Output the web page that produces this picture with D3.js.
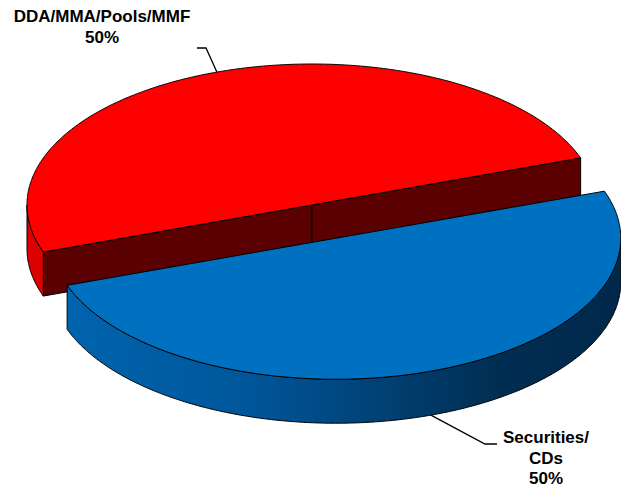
<!DOCTYPE html>
<html>
<head>
<meta charset="utf-8">
<script src="https://cdn.jsdelivr.net/npm/d3@7"></script>
<style>
  html, body { margin: 0; padding: 0; background: #fff; }
  svg { display: block; }
  text { font-family: "Liberation Sans", Arial, sans-serif; font-weight: bold; font-size: 17px; fill: #000; }
</style>
</head>
<body>
<svg id="chart" width="621" height="489"></svg>
<script>
// Allocation split
const categories = ["DDA/MMA/Pools/MMF", "Securities/CDs"];
const values = [50, 50];
const labelLines = [["DDA/MMA/Pools/MMF", "50%"], ["Securities/", "CDs", "50%"]];
const exploded = [0, 0.25];

const topColors = ["#FF0000", "#0070C0"];
const sideColors = ["#DC0000", "url(#blueSide)"];
const cutColors = ["#5A0000", "#002A4A"];

const width = 621, height = 489;
const cx = 312, cy = 205, rx = 285, ry = 141, depth = 44;

const svg = d3.select("#chart");

const defs = svg.append("defs");
const grad = defs.append("linearGradient")
  .attr("id", "blueSide").attr("gradientUnits", "userSpaceOnUse")
  .attr("x1", 67).attr("y1", 0).attr("x2", 622).attr("y2", 0);
[[0, "#0064AE"], [0.33, "#00569A"], [0.78, "#002E52"], [1, "#00284A"]]
  .forEach(([o, c]) => grad.append("stop").attr("offset", o).attr("stop-color", c));

const deg = Math.PI / 180;
const pie = d3.pie().sort(null).value(d => d)
  .startAngle(250.5 * deg).endAngle(250.5 * deg + 2 * Math.PI);
const arcs = pie(values);

// d3.pie angles run clockwise from 12 o'clock; screen angle runs from +x with y down
const screenAngle = a => a - Math.PI / 2;

function pt(theta, off, dz) {
  return [cx + off[0] + rx * Math.cos(theta), cy + off[1] + ry * Math.sin(theta) + dz];
}

function arcPoints(t0, t1, off, dz) {
  const n = Math.max(2, Math.ceil(Math.abs(t1 - t0) / (0.5 * deg)));
  return d3.range(n + 1).map(i => pt(t0 + (t1 - t0) * i / n, off, dz));
}

const line = d3.line();

const slices = arcs.map((a, i) => {
  const t0 = screenAngle(a.startAngle), t1 = screenAngle(a.endAngle);
  const mid = (t0 + t1) / 2;
  const e = exploded[i];
  const off = [e * rx * Math.cos(mid), e * ry * Math.sin(mid)];
  return { i, t0, t1, mid, off };
});

// Draw the back slice first, exploded front slice last
const order = slices.slice().sort((a, b) => Math.sin(a.mid) - Math.sin(b.mid));

const stroke = "#000", sw = 1;

order.forEach(s => {
  const g = svg.append("g");
  const c = [cx + s.off[0], cy + s.off[1]];

  // radial cut faces facing the viewer
  const faces = [];
  if (Math.sin(s.t0 - Math.PI / 2) > 0) faces.push(s.t0);
  if (Math.sin(s.t1 + Math.PI / 2) > 0) faces.push(s.t1);
  faces.forEach(t => {
    const p = pt(t, s.off, 0), q = pt(t, s.off, depth);
    g.append("path")
      .attr("d", line([c, p, q, [c[0], c[1] + depth]]) + "Z")
      .attr("fill", cutColors[s.i]).attr("stroke", stroke).attr("stroke-width", sw)
      .attr("stroke-linejoin", "round");
  });

  // outer rim: parts of the arc facing the viewer (sin > 0)
  for (let k = -1; k <= 2; k++) {
    const a0 = Math.max(s.t0, k * 2 * Math.PI), a1 = Math.min(s.t1, k * 2 * Math.PI + Math.PI);
    if (a1 - a0 > 1e-6) {
      const topPts = arcPoints(a0, a1, s.off, 0);
      const botPts = arcPoints(a1, a0, s.off, depth);
      g.append("path")
        .attr("d", line(topPts.concat(botPts)) + "Z")
        .attr("fill", sideColors[s.i]).attr("stroke", stroke).attr("stroke-width", sw)
        .attr("stroke-linejoin", "round");
    }
  }

  // top face
  const topPts = arcPoints(s.t0, s.t1, s.off, 0);
  g.append("path")
    .attr("d", line([c].concat(topPts)) + "Z")
    .attr("fill", topColors[s.i]).attr("stroke", stroke).attr("stroke-width", sw)
    .attr("stroke-linejoin", "round");
});

// Labels with leader lines anchored at each slice's mid angle
const labelPos = [
  { x: 102, y: 22, elbow: [206, 48], end: [197, 48], rimDepth: 0 },
  { x: 546, y: 443, elbow: [485, 444], end: [497, 444], rimDepth: depth }
];
slices.forEach(s => {
  const L = labelPos[s.i];
  const start = pt(s.mid, s.off, Math.sin(s.mid) > 0 ? L.rimDepth : 0);
  svg.append("path")
    .attr("d", line([start, L.elbow, L.end]))
    .attr("fill", "none").attr("stroke", "#000").attr("stroke-width", 1.3);
  const t = svg.append("text").attr("text-anchor", "middle");
  labelLines[s.i].forEach((txt, j) => {
    t.append("tspan").attr("x", L.x).attr("y", L.y + j * 20.7).text(txt);
  });
});
</script>
</body>
</html>
